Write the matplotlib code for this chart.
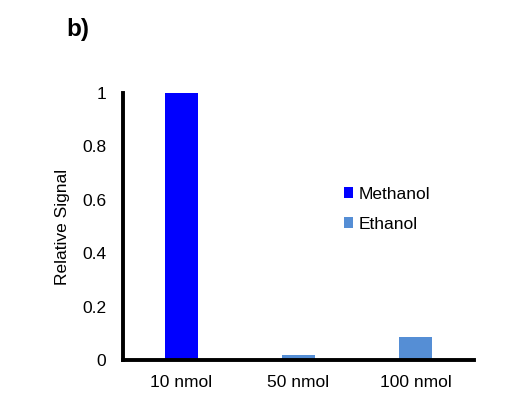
import matplotlib.pyplot as plt
import numpy as np

plt.rcParams['font.family'] = ['Liberation Sans', 'DejaVu Sans']

categories = ['10 nmol', '50 nmol', '100 nmol']
methanol = [1.0, 0, 0]
ethanol = [0, 0.02, 0.088]
yticks = [0, 0.2, 0.4, 0.6, 0.8, 1]
ytick_labels = ['0', '0.2', '0.4', '0.6', '0.8', '1']

fig = plt.figure(figsize=(5.29, 3.97), dpi=100)
ax = fig.add_axes([0.2325, 0.0932, 0.6635, 0.6725])

x = np.arange(len(categories))
w = 0.285
ax.bar(x, methanol, w, color='#0000FF', label='Methanol')
ax.bar(x, ethanol, w, color='#558ED5', label='Ethanol')

ax.set_xlim(-0.5, 2.5)
ax.set_ylim(0, 1)
ax.set_xticks(x)
ax.set_xticklabels(categories, fontsize=12.5)
ax.set_yticks(yticks)
ax.set_yticklabels(ytick_labels, fontsize=12.5)
ax.tick_params(axis='x', length=0, pad=11)
ax.tick_params(axis='y', length=0, pad=12)
ax.set_ylabel('Relative Signal', fontsize=12.5, labelpad=9)

for s in ['top', 'right']:
    ax.spines[s].set_visible(False)
for s in ['left', 'bottom']:
    ax.spines[s].set_linewidth(2.8)

ax.legend(loc='center left', bbox_to_anchor=(0.585, 0.565), frameon=False, fontsize=12.5,
          handlelength=0.55, handleheight=0.55, handletextpad=0.3, labelspacing=0.85)

fig.text(0.126, 0.91, 'b)', fontsize=17.5, fontweight='bold')

fig.savefig('out.png', dpi=100)
